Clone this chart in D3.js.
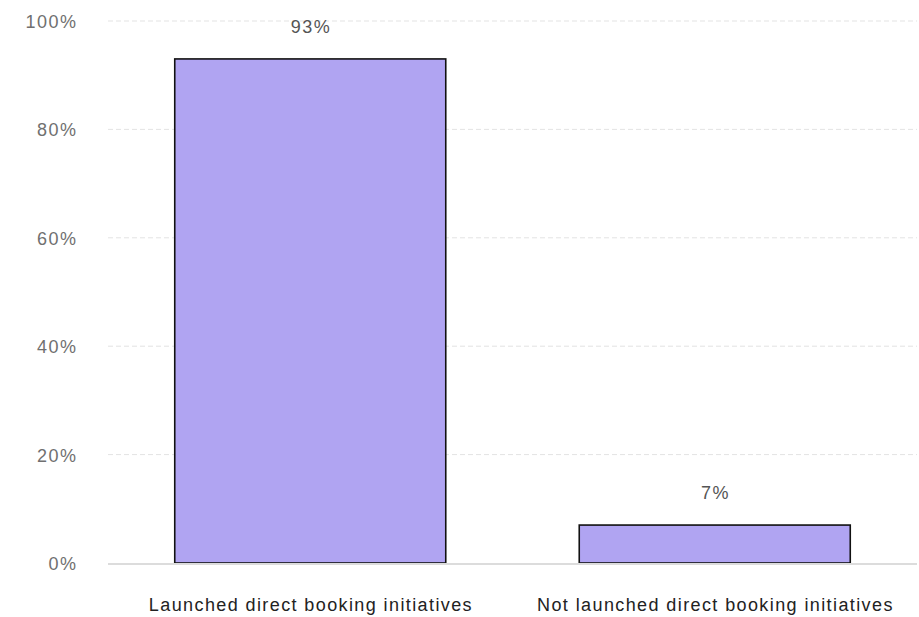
<!DOCTYPE html>
<html><head><meta charset="utf-8">
<script src="https://cdn.jsdelivr.net/npm/d3@7"></script>
<style>body{margin:0;background:#fff}svg{display:block}text{font-family:"Liberation Sans",Arial,sans-serif}</style>
</head><body><div id="c"></div>
<script>
const categories = ["Launched direct booking initiatives", "Not launched direct booking initiatives"];
const values = [93, 7];
const yTicks = [0, 20, 40, 60, 80, 100];

const W = 919, H = 617;
const m = {left: 108, right: 2, top: 21, bottom: 54};
const FONT = '"Liberation Sans",Arial,sans-serif';
const svg = d3.select("#c").append("svg").attr("width", W).attr("height", H);
const x = d3.scaleBand().domain(categories).range([m.left, W - m.right]).paddingInner(0.33).paddingOuter(0.165);
const y = d3.scaleLinear().domain([0, 100]).range([H - m.bottom, m.top]);

// grid
svg.append("g").selectAll("line").data(yTicks.filter(d => d > 0)).join("line")
  .attr("x1", m.left).attr("x2", W - m.right)
  .attr("y1", d => y(d)).attr("y2", d => y(d))
  .attr("stroke", "#e3e3e3").attr("stroke-dasharray", "5,3").attr("stroke-width", 1);

// y labels
const ya = svg.append("g").attr("transform", `translate(${77.5},0)`)
  .call(d3.axisLeft(y).tickValues(yTicks).tickFormat(d => d + "%").tickSize(0).tickPadding(0));
ya.select(".domain").remove();
ya.selectAll("text").attr("fill", "#707070").attr("font-size", 18).attr("letter-spacing", 1.5)
  .attr("font-family", FONT).attr("dy", "0.36em");

// bars
svg.append("g").selectAll("rect").data(values).join("rect")
  .attr("x", (d, i) => x(categories[i])).attr("width", x.bandwidth())
  .attr("y", d => y(d)).attr("height", d => y(0) - y(d))
  .attr("fill", "#b0a4f2").attr("stroke", "#111").attr("stroke-width", 1.6);

// baseline
svg.append("line").attr("x1", m.left).attr("x2", W - m.right)
  .attr("y1", y(0) + 1).attr("y2", y(0) + 1).attr("stroke", "#dcdcdc").attr("stroke-width", 2);

// value labels
svg.append("g").selectAll("text").data(values).join("text")
  .attr("x", (d, i) => x(categories[i]) + x.bandwidth() / 2 + 0.75)
  .attr("y", d => y(d) - 26).attr("text-anchor", "middle").attr("letter-spacing", 1.5)
  .attr("fill", "#555").attr("font-size", 18).text(d => d + "%");

// x labels
svg.append("g").selectAll("text").data(categories).join("text")
  .attr("x", d => x(d) + x.bandwidth() / 2 + 0.7)
  .attr("y", y(0) + 48).attr("text-anchor", "middle").attr("letter-spacing", 1.4)
  .attr("fill", "#222").attr("font-size", 18).text(d => d);
</script></body></html>
